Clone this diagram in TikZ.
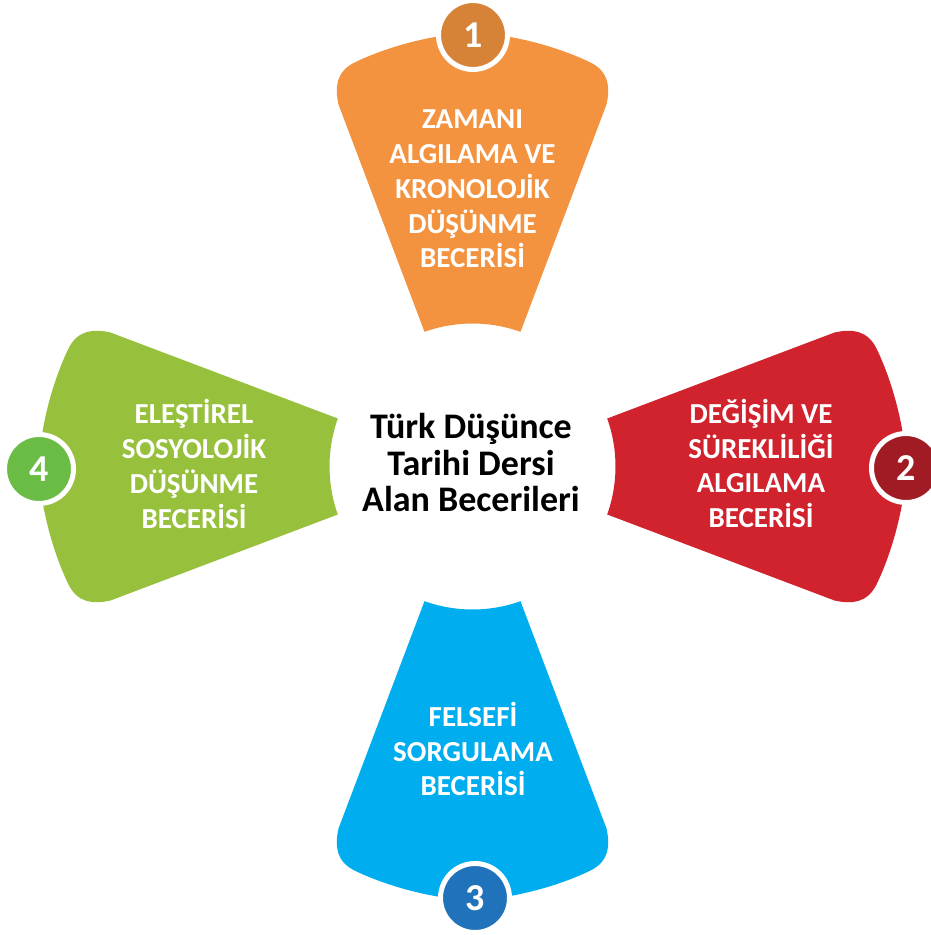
\documentclass[tikz,border=0pt]{standalone}
\usepackage{fontspec}
\setmainfont{Carlito}
\definecolor{orP}{RGB}{243,146,63}
\definecolor{orC}{RGB}{214,131,56}
\definecolor{rdP}{RGB}{209,35,45}
\definecolor{rdC}{RGB}{160,27,35}
\definecolor{blP}{RGB}{0,174,239}
\definecolor{blC}{RGB}{32,114,186}
\definecolor{grP}{RGB}{151,193,61}
\definecolor{grC}{RGB}{106,188,69}
\newcommand{\mypetal}[2]{%
  \begin{scope}[shift={(472.5,-466.5)},rotate=#2]
    \fill[#1] (48,134.7) -- (134,362) .. controls (138,380) and (136,395) .. (118,404)
      .. controls (85,420) and (40,432) .. (0,434)
      .. controls (-40,432) and (-85,420) .. (-118,404)
      .. controls (-136,395) and (-138,380) .. (-134,362)
      -- (-48,134.7) arc[start angle=109.6, end angle=70.4, radius=143] -- cycle;
  \end{scope}}
\tikzset{
  numc/.style={circle, draw=white, line width=5pt, minimum size=69pt, inner sep=0pt,
    text=white, font=\bfseries\fontsize{38}{40}\selectfont},
  ptext/.style={text=white, align=center, inner sep=0pt,
    font=\bfseries\fontsize{29}{34.8}\selectfont},
  ctext/.style={text=black, align=center, inner sep=0pt,
    font=\bfseries\fontsize{36}{36.8}\selectfont}
}
\begin{document}
\begin{tikzpicture}[x=1pt,y=1pt]
\useasboundingbox (0,0) rectangle (931,-935);
\mypetal{orP}{0}
\mypetal{rdP}{-90}
\mypetal{blP}{180}
\mypetal{grP}{90}
\node[numc, fill=orC] (n1) at (473,-35) {1};
\node[numc, fill=rdC] (n2) at (906,-468) {2};
\node[numc, fill=blC] (n3) at (475,-898) {3};
\node[numc, fill=grC] (n4) at (39,-469) {4};
\node[ptext] (t1) at (472.5,-189) {ZAMANI\\ALGILAMA VE\\KRONOLOJİK\\DÜŞÜNME\\BECERİSİ};
\node[ptext] (t2) at (761,-463.5) {DEĞİŞİM VE\\SÜREKLİLİĞİ\\ALGILAMA\\BECERİSİ};
\node[ptext] (t3) at (473,-749) {FELSEFİ\\SORGULAMA\\BECERİSİ};
\node[ptext] (t4) at (194,-464) {ELEŞTİREL\\SOSYOLOJİK\\DÜŞÜNME\\BECERİSİ};
\node[ctext] (c) at (471,-462.5) {Türk Düşünce\\Tarihi Dersi\\Alan Becerileri};
\end{tikzpicture}
\end{document}
